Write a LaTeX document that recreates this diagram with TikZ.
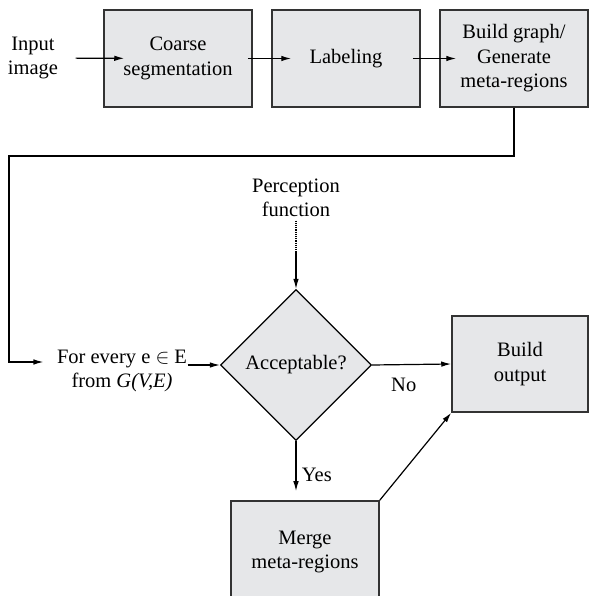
\documentclass[tikz,border=0pt]{standalone}
\usepackage{fontspec}
\setmainfont{Liberation Serif}
\usetikzlibrary{arrows.meta}
\usetikzlibrary{shapes.geometric}
\definecolor{boxfill}{HTML}{E6E7E9}
\definecolor{boxline}{HTML}{333333}
\tikzset{
  >={Latex[length=10pt,width=5.5pt]},
  stage/.style={rectangle,draw=boxline,fill=boxfill,line width=1.5pt,align=center,minimum width=148pt,minimum height=97pt},
  choice/.style={diamond,draw=black,fill=boxfill,line width=1.2pt,minimum size=151pt,inner sep=0pt},
  plain/.style={align=center},
  flow/.style={->,line width=1.2pt},
  overlap/.style={flow,shorten <=-5pt,shorten >=-20pt}
}

\begin{document}
\begin{tikzpicture}[x=1pt,y=-1pt,font=\fontsize{20.5}{24.5}\selectfont]
    \useasboundingbox (0,0) rectangle (598,596);
    \node[plain] (input) at (33,58) {Input\\image};
    \node[stage] (coarse) at (178,58.5) {Coarse\\segmentation};
    \node[stage] (label) at (346,58.5) {Labeling};
    \node[stage] (graph) at (514,58.5) {Build graph/\\Generate\\meta-regions};
    \node[plain] (perc) at (296,198) {Perception\\function};
    \node[choice] (accept) at (296,365) {Acceptable?};
    \node[plain] (every) at (122,371) {For every e $\in$ E\\from \textit{G(V,E)}};
    \node[stage,minimum width=136pt,minimum height=96pt] (output) at (520,364) {Build\\output};
    \node[stage,minimum height=102pt] (merge) at (305,552) {Merge\\meta-regions};
    \coordinate (back) at (9,156);
    \coordinate (pmid) at (296,253);
    \path[flow] (input) edge[shorten <=14pt,shorten >=-21pt] (coarse);
    \path[overlap] (coarse) edge (label);
    \path[overlap] (label) edge[shorten <=-8pt,shorten >=-17pt] (graph);
    \draw[flow] (graph.south) |- (back) |- ([xshift=-10pt,yshift=9pt]every.west);
    \draw[flow] ([xshift=-3pt]every.east |- accept.west) -- (accept.west);
    \draw[densely dotted,line width=1.2pt] (perc.south) -- (pmid);
    \draw[flow] (pmid) -- (accept.north);
    \path[flow] (accept.east) edge node[below,pos=0.4,yshift=-10pt] {No} (output.west);
    \draw[flow,shorten >=9pt] (accept.south) -- node[right,pos=0.6,xshift=2pt,yshift=2pt] {Yes} (accept.south |- merge.north);
    \draw[flow] (merge.north east) -- (output.south west);
\end{tikzpicture}
\end{document}
